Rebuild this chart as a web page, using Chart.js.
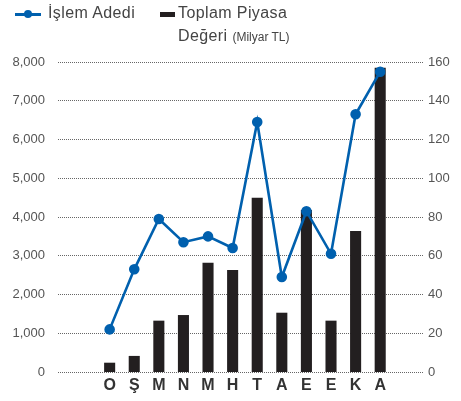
<!DOCTYPE html>
<html>
<head>
<meta charset="utf-8">
<script src="https://cdn.jsdelivr.net/npm/chart.js@4"></script>
<style>
html,body{margin:0;padding:0;background:#fff;}
#wrap{position:relative;width:461px;height:401px;font-family:"Liberation Sans",Arial,sans-serif;}
#c{position:absolute;left:0;top:0;}
.lg{position:absolute;color:#444;font-size:16px;letter-spacing:0.4px;white-space:nowrap;}
.sm{font-size:12px;letter-spacing:0;}
.mk-line{position:absolute;left:15px;top:13px;width:26px;height:3px;background:#0060ae;}
.mk-dot{position:absolute;left:24px;top:10px;width:8px;height:8px;border-radius:50%;background:#0060ae;}
.mk-bar{position:absolute;left:160px;top:12px;width:15px;height:5px;background:#231f20;}
</style>
</head>
<body>
<div id="wrap">
<canvas id="c" width="461" height="401"></canvas>
<div class="mk-line"></div><div class="mk-dot"></div>
<div class="lg" style="left:48px;top:4px;">İşlem Adedi</div>
<div class="mk-bar"></div>
<div class="lg" style="left:178px;top:4px;">Toplam Piyasa</div>
<div class="lg" style="left:178px;top:27px;">Değeri <span class="sm">(Milyar TL)</span></div>
</div>
<script>
const categories = ['O','Ş','M','N','M','H','T','A','E','E','K','A'];
const islemAdedi = [1100, 2650, 3950, 3350, 3500, 3200, 6450, 2450, 4150, 3050, 6650, 7750];
const piyasaDegeri = [4.8, 8.3, 26.5, 29.4, 56.4, 52.6, 90, 30.6, 83.6, 26.5, 72.8, 157];
const leftTicks = [0,1000,2000,3000,4000,5000,6000,7000,8000];
const rightTicks = [0,20,40,60,80,100,120,140,160];

new Chart(document.getElementById('c'), {
  data: {
    datasets: [
      {
        type:'line', label:'İşlem Adedi', yAxisID:'y',
        data: islemAdedi.map((v,i)=>({x:i,y:v})),
        borderColor:'#0060ae', backgroundColor:'#0060ae',
        borderWidth:2.6, pointRadius:4, pointHoverRadius:4, tension:0, order:0
      },
      {
        type:'bar', label:'Toplam Piyasa Değeri (Milyar TL)', yAxisID:'y1',
        data: piyasaDegeri.map((v,i)=>({x:i,y:v})),
        backgroundColor:'#231f20', barPercentage:0.45, categoryPercentage:1, order:1
      }
    ]
  },
  options: {
    responsive:false, animation:false,
    layout:{padding:{top:62,left:0,right:0,bottom:0}},
    plugins:{legend:{display:false}, tooltip:{enabled:false}},
    scales:{
      x:{
        type:'linear', min:-2.1, max:12.74, offset:false,
        grid:{display:false, drawTicks:false}, border:{display:false},
        afterBuildTicks:(s)=>{s.ticks = categories.map((c,i)=>({value:i}));},
        afterFit:(s)=>{s.height = 29;},
        ticks:{
          autoSkip:false, maxRotation:0, padding:4, color:'#333',
          font:{family:'"Liberation Sans Narrow","Liberation Sans",Arial', size:16, weight:'bold'},
          callback:(v)=>categories[v] ?? ''
        }
      },
      y:{
        position:'left', min:0, max:8000,
        afterBuildTicks:(s)=>{s.ticks = leftTicks.map(v=>({value:v}));},
        afterFit:(s)=>{s.width = 58;},
        grid:{color:'#666', lineWidth:1, drawTicks:false},
        border:{display:false, dash:[1,1]},
        ticks:{padding:13, color:'#555', font:{family:'"Liberation Sans",Arial', size:13},
          callback:(v)=>v.toLocaleString('en-US')}
      },
      y1:{
        position:'right', min:0, max:160,
        afterBuildTicks:(s)=>{s.ticks = rightTicks.map(v=>({value:v}));},
        afterFit:(s)=>{s.width = 38;},
        grid:{display:false, drawTicks:false}, border:{display:false},
        ticks:{padding:5, color:'#555', font:{family:'"Liberation Sans",Arial', size:13}}
      }
    }
  }
});
</script>
</body>
</html>
